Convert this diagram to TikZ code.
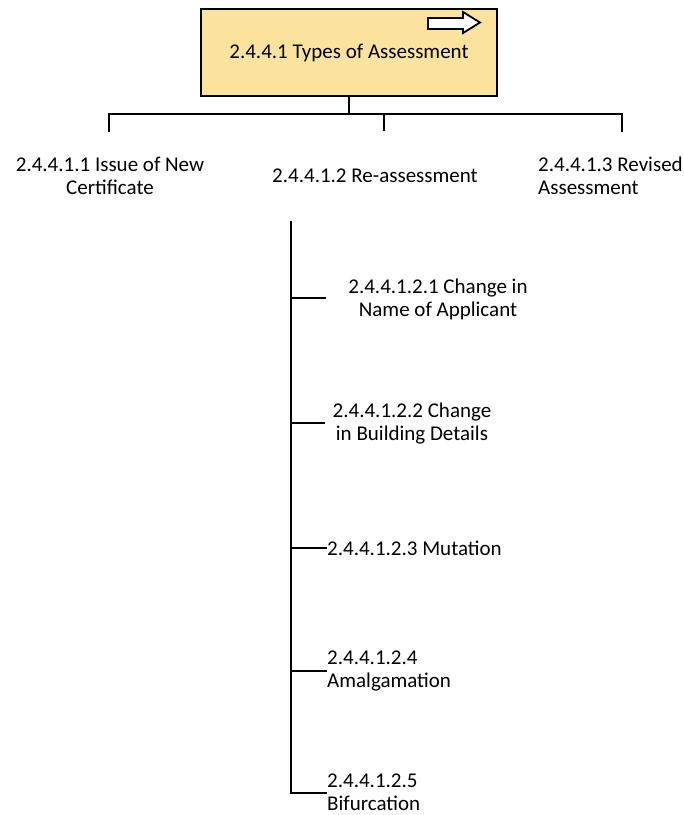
\documentclass[tikz,border=0pt]{standalone}
\usepackage{fontspec}
\setmainfont{Carlito}
\usepackage{tikz}
\usetikzlibrary{positioning,calc}
\definecolor{boxyellow}{HTML}{FBE39D}
\tikzset{
  item/.style={inner sep=0pt, align=center, font=\fontsize{21}{23}\selectfont},
  leftitem/.style={item, align=left, anchor=west},
  branch/.style={line width=2.3pt},
}

\begin{document}
\begin{tikzpicture}[x=1pt,y=-1pt]
    \useasboundingbox (0,0) rectangle (684,815);

    % root box
    \node[draw, line width=2.3pt, fill=boxyellow, minimum width=296pt, minimum height=87pt, item] (root) at (349,52.5) {};
    \node[item] (rootlabel) at (349,53) {2.4.4.1 Types of Assessment};
    \draw[line width=1.8pt, fill=white] (428,18) -- (463,18) -- (463,12) -- (480,22.5) -- (463,33) -- (463,29) -- (428,29) -- cycle;

    % first level
    \node[item] (issue) at (110,175.5) {2.4.4.1.1 Issue of New\\Certificate};
    \node[item] (reass) at (375,176) {2.4.4.1.2 Re-assessment};
    \node[leftitem] (revised) at (538,175.5) {2.4.4.1.3 Revised\\Assessment};

    \coordinate (bus) at (root.south |- 0,114);
    \coordinate (dropA) at (109,132);
    \coordinate (dropB) at (384,131);
    \coordinate (dropC) at (622,132);
    \draw[branch] (root.south) -- (bus);
    \draw[branch] (dropA) -- (dropA |- bus) -- (dropC |- bus) -- (dropC);
    \draw[branch] (dropB |- bus) -- (dropB);

    % second level
    \node[item] (name) at (438,299.5) {2.4.4.1.2.1 Change in\\Name of Applicant};
    \node[item] (building) at (412,423.5) {2.4.4.1.2.2 Change\\in Building Details};
    \node[leftitem] (mutation) at (327,548) {2.4.4.1.2.3 Mutation};
    \node[leftitem] (amalg) at (327,671) {2.4.4.1.2.4\\Amalgamation};
    \node[leftitem] (bifur) at (327,792.5) {2.4.4.1.2.5\\Bifurcation};

    \coordinate (spine) at (291,221);
    \draw[branch] (spine) -- (291,793) -- (bifur.west |- 0,793);
    \draw[branch] (291,298) -- (326,298);
    \draw[branch] (291,423) -- (325,423);
    \draw[branch] (291,548) -- (mutation.west);
    \draw[branch] (291,671) -- (amalg.west |- 0,671);
\end{tikzpicture}
\end{document}
